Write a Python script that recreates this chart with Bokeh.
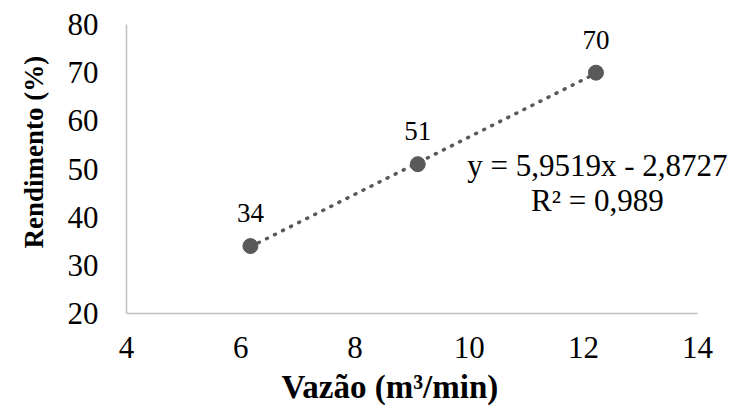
from bokeh.plotting import figure
from bokeh.models import Range1d, ColumnDataSource, LabelSet, Label, FixedTicker, Title
from bokeh.embed import file_html
from bokeh.resources import INLINE

# ---- data ----
vazao = [6.17, 9.1, 12.22]          # m³/min
rendimento = [34, 51, 70]            # %
point_labels = ["34", "51", "70"]
slope = 5.9519
intercept = -2.8727
r2 = 0.989
x_ticks = [4, 6, 8, 10, 12, 14]
y_ticks = [20, 30, 40, 50, 60, 70, 80]
x_title = "Vazão (m³/min)"
y_title = "Rendimento (%)"

FONT = "Liberation Serif"
GREY = "#595959"

p = figure(width=734, height=412, output_backend="svg", toolbar_location=None,
           x_range=Range1d(x_ticks[0], 14.646), y_range=Range1d(y_ticks[0], y_ticks[-1]),
           min_border_left=124, min_border_right=0, min_border_top=24, min_border_bottom=99)
p.outline_line_color = None
p.xgrid.visible = False
p.ygrid.visible = False
p.background_fill_color = "white"
p.border_fill_color = "white"

for ax in (p.xaxis[0], p.yaxis[0]):
    ax.axis_line_color = "#BFBFBF"
    ax.axis_line_width = 1.5
    ax.major_tick_line_color = None
    ax.minor_tick_line_color = None
    ax.major_tick_out = 0
    ax.major_tick_in = 0
    ax.major_label_text_font = FONT
    ax.major_label_text_font_size = "31px"
    ax.major_label_text_color = "black"

p.xaxis[0].ticker = FixedTicker(ticks=x_ticks)
p.xaxis[0].bounds = (x_ticks[0], x_ticks[-1])
p.yaxis[0].ticker = FixedTicker(ticks=y_ticks)
p.xaxis[0].major_label_standoff = 23
p.yaxis[0].major_label_standoff = 28

# trend line (from the fitted equation over the data span)
x0, x1 = min(vazao), max(vazao)
p.line([x0, x1], [slope * x0 + intercept, slope * x1 + intercept],
       line_color=GREY, line_width=3.5, line_dash="1 8", line_cap="round")

src = ColumnDataSource(dict(x=vazao, y=rendimento, t=point_labels))
p.scatter("x", "y", source=src, size=15, fill_color=GREY, line_color=GREY)

p.add_layout(LabelSet(x="x", y="y", text="t", source=src, y_offset=24,
                      text_align="center", text_baseline="alphabetic",
                      text_font=FONT, text_font_size="27px", text_color="black"))

eq1 = "y = " + f"{slope:.4f}".replace(".", ",") + "x - " + f"{abs(intercept):.4f}".replace(".", ",")
eq2 = "R² = " + f"{r2:.3f}".replace(".", ",")
p.add_layout(Label(x=12.246, y=50.73, text=eq1, text_align="center", text_baseline="alphabetic",
                   text_font=FONT, text_font_size="31px", text_color="black"))
p.add_layout(Label(x=12.246, y=43.46, text=eq2, text_align="center", text_baseline="alphabetic",
                   text_font=FONT, text_font_size="31px", text_color="black"))

# axis titles
p.add_layout(Title(text=x_title, align="left", vertical_align="bottom", offset=155, standoff=13,
                   text_font=FONT, text_font_size="33px", text_font_style="bold",
                   text_color="black"), "below")
p.add_layout(Title(text=y_title, align="left", offset=65, standoff=32,
                   text_font=FONT, text_font_size="27px", text_font_style="bold",
                   text_color="black"), "left")

open("out.html", "w").write(file_html(p, INLINE))
